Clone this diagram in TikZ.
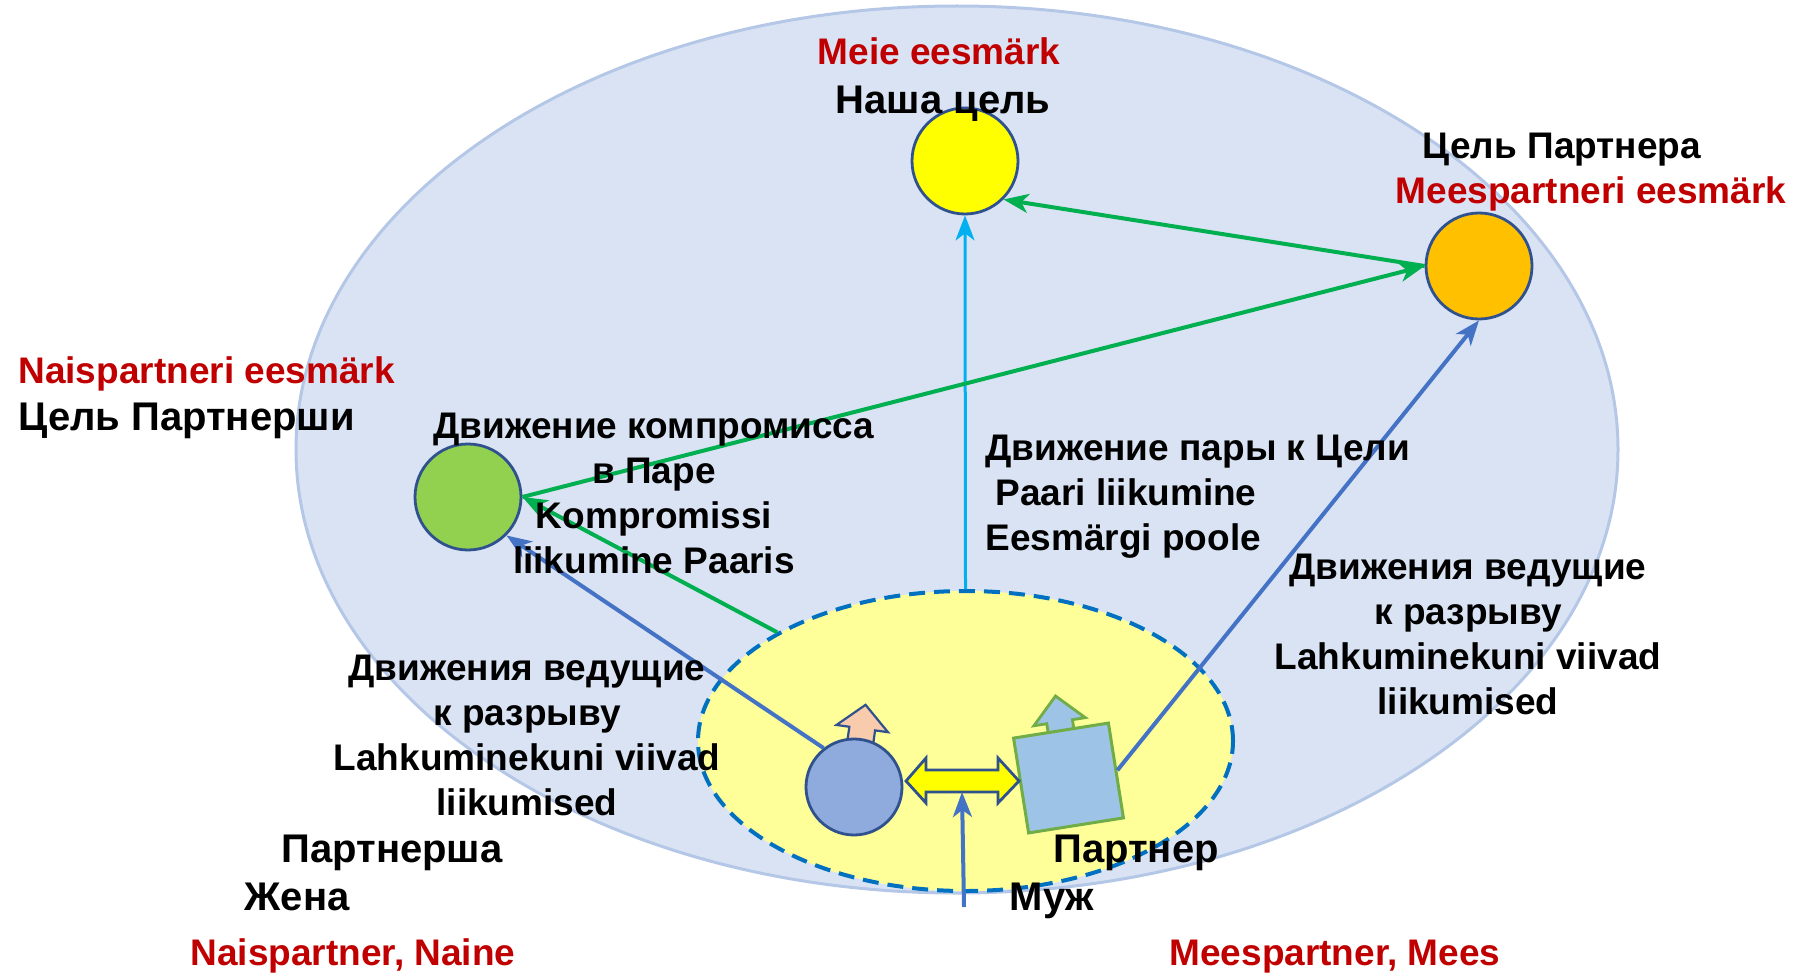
\documentclass[tikz,border=0pt]{standalone}
\usepackage{fontspec}
\setmainfont{Liberation Sans}
\usetikzlibrary{shapes.geometric,arrows.meta}
\definecolor{fieldfill}{HTML}{DAE3F3}
\definecolor{fieldline}{HTML}{B4C7E7}
\definecolor{couplefill}{HTML}{FFFF99}
\definecolor{coupleline}{HTML}{0070C0}
\definecolor{darkline}{HTML}{2F528F}
\definecolor{goalyellow}{HTML}{FFFF00}
\definecolor{goalorange}{HTML}{FFC000}
\definecolor{goalgreen}{HTML}{92D050}
\definecolor{wifeblue}{HTML}{8FAADC}
\definecolor{husbblue}{HTML}{9DC3E6}
\definecolor{husbline}{HTML}{70AD47}
\definecolor{peach}{HTML}{F8CBAD}
\definecolor{arrgreen}{HTML}{00B050}
\definecolor{arrblue}{HTML}{4472C4}
\definecolor{arrcyan}{HTML}{00B0F0}
\definecolor{labelred}{HTML}{C00000}
\newcommand{\mylines}[2]{\begin{tabular}[t]{@{}#1@{}}#2\end{tabular}}
\begin{document}
\begin{tikzpicture}[x=0.5pt,y=-0.5pt,
  txt/.style={font=\fontsize{18.5}{22.5}\selectfont\bfseries, inner sep=0pt, anchor=base},
  bigtxt/.style={txt, font=\fontsize{20}{24}\selectfont\bfseries},
  redtxt/.style={txt, text=labelred},
  goal/.style={circle, draw=darkline, line width=1.4pt, minimum size=53pt, inner sep=0pt},
  conn/.style={line width=2pt, -{Stealth[length=12.5pt,width=9.5pt,inset=3.5pt]}},
  shapearrow/.style={line width=1.1pt, line join=miter}
]
\useasboundingbox (0,0) rectangle (1798,974);

% background field and couple area
\node[ellipse, fill=fieldfill, draw=fieldline, line width=1.5pt, inner sep=0pt,
      minimum width=661pt, minimum height=443.5pt] (field) at (957,449.5) {};
\node[ellipse, fill=couplefill, draw=coupleline, line width=2pt, dash pattern=on 8pt off 4.5pt,
      inner sep=0pt, minimum width=267.5pt, minimum height=150pt] (couple) at (965.5,741) {};

% small direction arrows
\begin{scope}[shift={(854,787)}, rotate=-8]
  \draw[shapearrow, fill=peach, draw=darkline] (-13,-40) -- (-13,-59) -- (-26,-59) -- (0,-83)
     -- (26,-59) -- (13,-59) -- (13,-40) -- cycle;
\end{scope}
\begin{scope}[shift={(1068.5,778)}, rotate=9]
  \draw[shapearrow, fill=husbblue, draw=husbline, line width=1.4pt] (-13,-40) -- (-13,-57) -- (-26,-57) -- (0,-83)
     -- (26,-57) -- (13,-57) -- (13,-40) -- cycle;
\end{scope}

% goals and partners
\node[goal, fill=goalyellow] (goal) at (965,161) {};
\node[goal, fill=goalorange] (pgoal) at (1479,266) {};
\node[goal, fill=goalgreen] (wgoal) at (468,497) {};
\node[circle, fill=wifeblue, draw=darkline, line width=1.4pt, minimum size=48pt, inner sep=0pt] (wife) at (854,787) {};
\node[rectangle, rotate=9, fill=husbblue, draw=husbline, line width=1.5pt, minimum size=48pt, inner sep=0pt] (husb) at (1068.5,778) {};

% link between partners
\draw[line width=1.4pt, fill=goalyellow, draw=darkline, line join=miter]
  (906,781) -- (926,758) -- (926,770) -- (998,770) -- (998,758) -- (1019,781)
  -- (998,803) -- (998,792) -- (926,792) -- (926,803) -- cycle;
\coordinate (mlink) at (962,792);
\coordinate (mstart) at (964,907);

% connectors
\draw[conn, arrcyan, line width=1.5pt] (couple.north) -- (goal.south);
\draw[conn, arrgreen] (pgoal.west) -- (goal.-45);
\draw[conn, arrgreen] (wgoal.east) -- (pgoal.west);
\draw[conn, arrgreen] (couple.150) -- (wgoal.east);
\draw[conn, arrblue] (wife.128) -- (wgoal.-45);
\draw[conn, arrblue] (husb.east) -- (pgoal.south);
\draw[conn, arrblue] (mstart) -- (mlink);

% labels
\node[redtxt] (meie) at (939,65) {Meie eesmärk};
\node[bigtxt] (nasha) at (943,113) {Наша цель};
\node[txt] (celp) at (1562,158) {Цель Партнера};
\node[redtxt] (meesg) at (1591,203) {Meespartneri eesmärk};
\node[redtxt, anchor=base west] (naisg) at (18,383) {Naispartneri eesmärk};
\node[bigtxt, anchor=base west] (celw) at (18,430) {Цель Партнерши};
\node[txt] (komp) at (654,438) {\mylines{c}{Движение компромисса\\в Паре\\Kompromissi\\liikumine Paaris}};
\node[txt, anchor=base west] (paar) at (985,460) {\mylines{l}{Движение пары к Цели\\\hspace*{5pt}Paari liikumine\\Eesmärgi poole}};
\node[txt] (rbreak) at (1468,579) {\mylines{c}{Движения ведущие\\к разрыву\\Lahkuminekuni viivad\\liikumised}};
\node[txt] (lbreak) at (527,680) {\mylines{c}{Движения ведущие\\к разрыву\\Lahkuminekuni viivad\\liikumised}};
\node[bigtxt] (partnersha) at (392,862) {Партнерша};
\node[bigtxt] (zhena) at (297,910) {Жена};
\node[redtxt] (naine) at (353,965) {Naispartner, Naine};
\node[bigtxt] (partner) at (1136,862) {Партнер};
\node[bigtxt] (muzh) at (1052,910) {Муж};
\node[redtxt] (mees) at (1335,965) {Meespartner, Mees};
\end{tikzpicture}
\end{document}
